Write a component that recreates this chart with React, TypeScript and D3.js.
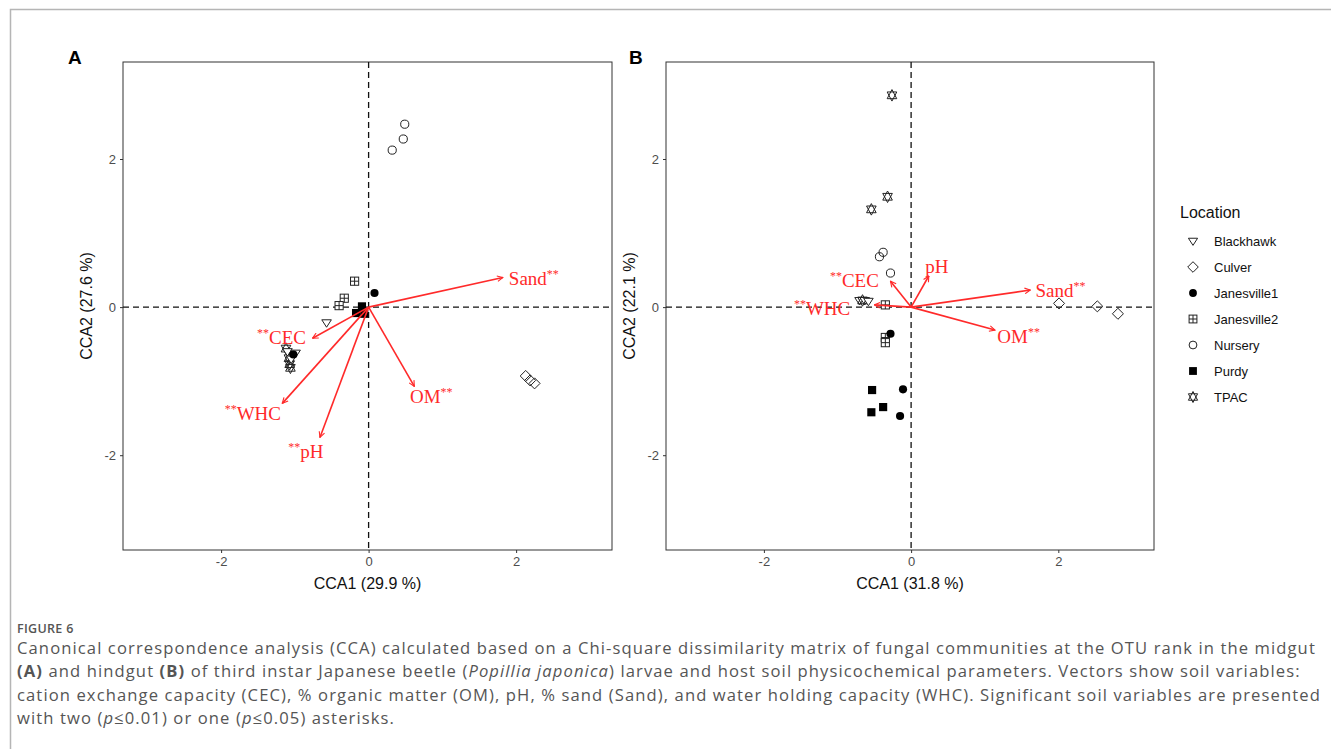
import React, { useEffect, useRef } from 'react';
import * as d3 from 'd3';

// location names and the ggplot shape each one uses
const locations = ['Blackhawk', 'Culver', 'Janesville1', 'Janesville2', 'Nursery', 'Purdy', 'TPAC'];
const shapes = ['triDown', 'diamond', 'dot', 'squarePlus', 'circle', 'square', 'star'];

// sample scores, panel A (midgut): [location, CCA1, CCA2]
const pointsA: [string, number, number][] = [
  ['Nursery', 0.32, 2.12], ['Nursery', 0.47, 2.27], ['Nursery', 0.49, 2.47],
  ['Culver', 2.13, -0.93], ['Culver', 2.19, -0.99], ['Culver', 2.25, -1.03],
  ['Janesville2', -0.19, 0.35], ['Janesville2', -0.33, 0.12], ['Janesville2', -0.4, 0.02],
  ['Janesville1', 0.08, 0.19],
  ['Purdy', -0.09, 0.01], ['Purdy', -0.17, -0.08], ['Purdy', -0.06, -0.09],
  ['Blackhawk', -0.57, -0.21],
  ['TPAC', -1.12, -0.56], ['TPAC', -1.08, -0.69], ['TPAC', -1.07, -0.77], ['TPAC', -1.06, -0.82],
  ['Blackhawk', -1.1, -0.6], ['Blackhawk', -0.99, -0.62], ['Blackhawk', -1.05, -0.7],
  ['Janesville1', -1.02, -0.64],
];

// sample scores, panel B (hindgut)
const pointsB: [string, number, number][] = [
  ['TPAC', -0.26, 2.86], ['TPAC', -0.32, 1.49], ['TPAC', -0.54, 1.32],
  ['Nursery', -0.38, 0.74], ['Nursery', -0.43, 0.68], ['Nursery', -0.28, 0.46],
  ['Blackhawk', -0.7, 0.09], ['Blackhawk', -0.63, 0.09], ['TPAC', -0.66, 0.09], ['Blackhawk', -0.58, 0.08],
  ['Janesville2', -0.35, 0.03], ['Janesville2', -0.35, -0.41], ['Janesville2', -0.35, -0.48],
  ['Janesville1', -0.28, -0.36], ['Janesville1', -0.11, -1.11], ['Janesville1', -0.15, -1.47],
  ['Purdy', -0.53, -1.12], ['Purdy', -0.38, -1.35], ['Purdy', -0.54, -1.42],
  ['Culver', 2.01, 0.05], ['Culver', 2.53, 0.01], ['Culver', 2.81, -0.09],
];

// soil vectors: [name, prefix stars, suffix stars, tipX, tipY, labelX, labelY]
const vectorsA: [string, string, string, number, number, number, number][] = [
  ['Sand', '', '**', 1.82, 0.4, 2.24, 0.38],
  ['OM', '', '**', 0.62, -1.07, 0.85, -1.22],
  ['pH', '**', '', -0.66, -1.76, -0.85, -1.95],
  ['WHC', '**', '', -1.17, -1.3, -1.57, -1.45],
  ['CEC', '**', '', -0.76, -0.42, -1.18, -0.42],
];
const vectorsB: [string, string, string, number, number, number, number][] = [
  ['Sand', '', '**', 1.62, 0.23, 2.03, 0.22],
  ['OM', '', '**', 1.14, -0.31, 1.46, -0.41],
  ['pH', '', '', 0.24, 0.42, 0.35, 0.54],
  ['CEC', '**', '', -0.28, 0.35, -0.77, 0.35],
  ['WHC', '**', '', -0.5, 0.03, -1.21, -0.03],
];

const panels = [
  { letter: 'A', letterX: 68, xLabel: 'CCA1 (29.9 %)', yLabel: 'CCA2 (27.6 %)', points: pointsA, vectors: vectorsA },
  { letter: 'B', letterX: 629, xLabel: 'CCA1 (31.8 %)', yLabel: 'CCA2 (22.1 %)', points: pointsB, vectors: vectorsB },
];

const ticks = [-2, 0, 2];

const captionLines = [
  [{ t: 'Canonical correspondence analysis (CCA) calculated based on a Chi-square dissimilarity matrix of fungal communities at the OTU rank in the midgut' }],
  [{ t: '(A)', b: true }, { t: ' and hindgut ' }, { t: '(B)', b: true }, { t: ' of third instar Japanese beetle (' }, { t: 'Popillia japonica', i: true }, { t: ') larvae and host soil physicochemical parameters. Vectors show soil variables:' }],
  [{ t: 'cation exchange capacity (CEC), % organic matter (OM), pH, % sand (Sand), and water holding capacity (WHC). Significant soil variables are presented' }],
  [{ t: 'with two (' }, { t: 'p', i: true }, { t: '≤0.01) or one (' }, { t: 'p', i: true }, { t: '≤0.05) asterisks.' }],
];

function drawShape(g: any, shape: string, cx: number, cy: number, s: number) {
  const stroke = '#222';
  if (shape === 'triDown') {
    g.append('path').attr('d', `M${cx - s},${cy - s * 0.6}L${cx + s},${cy - s * 0.6}L${cx},${cy + s * 0.95}Z`)
      .attr('fill', 'white').attr('stroke', stroke).attr('stroke-width', 1);
  } else if (shape === 'diamond') {
    g.append('path').attr('d', `M${cx},${cy - s * 1.15}L${cx + s * 1.15},${cy}L${cx},${cy + s * 1.15}L${cx - s * 1.15},${cy}Z`)
      .attr('fill', 'none').attr('stroke', stroke).attr('stroke-width', 1);
  } else if (shape === 'dot') {
    g.append('circle').attr('cx', cx).attr('cy', cy).attr('r', s * 0.85).attr('fill', '#000');
  } else if (shape === 'squarePlus') {
    const h = s * 0.85;
    g.append('rect').attr('x', cx - h).attr('y', cy - h).attr('width', 2 * h).attr('height', 2 * h)
      .attr('fill', 'white').attr('stroke', stroke).attr('stroke-width', 1);
    g.append('path').attr('d', `M${cx - h},${cy}L${cx + h},${cy}M${cx},${cy - h}L${cx},${cy + h}`)
      .attr('stroke', stroke).attr('stroke-width', 1);
  } else if (shape === 'circle') {
    g.append('circle').attr('cx', cx).attr('cy', cy).attr('r', s * 0.85)
      .attr('fill', 'none').attr('stroke', stroke).attr('stroke-width', 1);
  } else if (shape === 'square') {
    const h = s * 0.85;
    g.append('rect').attr('x', cx - h).attr('y', cy - h).attr('width', 2 * h).attr('height', 2 * h).attr('fill', '#000');
  } else if (shape === 'star') {
    g.append('path').attr('d', `M${cx - s},${cy - s * 0.7}L${cx + s},${cy - s * 0.7}L${cx},${cy + s * 1.2}Z`)
      .attr('fill', 'none').attr('stroke', stroke).attr('stroke-width', 1);
    g.append('path').attr('d', `M${cx - s},${cy + s * 0.7}L${cx + s},${cy + s * 0.7}L${cx},${cy - s * 1.2}Z`)
      .attr('fill', 'none').attr('stroke', stroke).attr('stroke-width', 1);
  }
}

function App() {
  const ref = useRef<SVGSVGElement>(null);

  useEffect(() => {
    const svg = d3.select(ref.current);
    svg.selectAll('*').remove();

    // card border
    svg.append('path').attr('d', 'M10.5,749V9.5H1331').attr('fill', 'none').attr('stroke', '#b5b5b5').attr('stroke-width', 1.5);

    const defs = svg.append('defs');
    defs.append('marker').attr('id', 'arrow').attr('viewBox', '0 0 10 10')
      .attr('refX', 9).attr('refY', 5).attr('markerWidth', 7).attr('markerHeight', 7)
      .attr('markerUnits', 'userSpaceOnUse').attr('orient', 'auto')
      .append('path').attr('d', 'M1,1L9,5L1,9').attr('fill', 'none').attr('stroke', '#ff2a2a').attr('stroke-width', 1.6);

    const boxes = [[123, 612], [666, 1154]];
    const top = 62, bottom = 550;
    const sans = 'Liberation Sans, Arial, sans-serif';

    panels.forEach((p, i) => {
      const [left, right] = boxes[i];
      const x = d3.scaleLinear().domain([-3.33, 3.3]).range([left, right]);
      const y = d3.scaleLinear().domain([-3.28, 3.31]).range([bottom, top]);
      const g = svg.append('g');

      g.append('rect').attr('x', left).attr('y', top).attr('width', right - left).attr('height', bottom - top)
        .attr('fill', 'white').attr('stroke', '#333').attr('stroke-width', 1);

      // zero lines
      g.append('line').attr('x1', left).attr('x2', right).attr('y1', y(0)).attr('y2', y(0))
        .attr('stroke', '#111').attr('stroke-width', 1.3).attr('stroke-dasharray', '6,4');
      g.append('line').attr('x1', x(0)).attr('x2', x(0)).attr('y1', top).attr('y2', bottom)
        .attr('stroke', '#111').attr('stroke-width', 1.3).attr('stroke-dasharray', '6,4');

      // axes
      const fmt = (d: any) => String(d);
      const xAxis = g.append('g').attr('transform', `translate(0,${bottom})`)
        .call(d3.axisBottom(x).tickValues(ticks).tickFormat(fmt).tickSize(3).tickSizeOuter(0).tickPadding(4));
      const yAxis = g.append('g').attr('transform', `translate(${left},0)`)
        .call(d3.axisLeft(y).tickValues(ticks).tickFormat(fmt).tickSize(3).tickSizeOuter(0).tickPadding(4));
      [xAxis, yAxis].forEach((a) => {
        a.select('.domain').remove();
        a.selectAll('line').attr('stroke', '#333');
        a.selectAll('text').attr('fill', '#4d4d4d').attr('font-size', 13).attr('font-family', sans);
      });

      g.append('text').attr('x', (left + right) / 2).attr('y', 589).attr('text-anchor', 'middle')
        .attr('font-family', sans).attr('font-size', 16).attr('fill', '#111').text(p.xLabel);
      g.append('text').attr('transform', `translate(${left - 31},${(top + bottom) / 2}) rotate(-90)`).attr('text-anchor', 'middle')
        .attr('font-family', sans).attr('font-size', 16).attr('fill', '#111').text(p.yLabel);

      g.append('text').attr('x', p.letterX).attr('y', 64).attr('font-family', sans)
        .attr('font-weight', 'bold').attr('font-size', 19).attr('fill', '#000').text(p.letter);

      // points
      p.points.forEach(([loc, px, py]) => {
        drawShape(g, shapes[locations.indexOf(loc)], x(px), y(py), 4.8);
      });

      // soil vectors
      p.vectors.forEach(([name, pre, post, tx, ty, lx, ly]) => {
        g.append('line').attr('x1', x(0)).attr('y1', y(0)).attr('x2', x(tx)).attr('y2', y(ty))
          .attr('stroke', '#ff2a2a').attr('stroke-width', 1.6).attr('marker-end', 'url(#arrow)');
        const t = g.append('text').attr('x', x(lx)).attr('y', y(ly) + 6).attr('text-anchor', 'middle')
          .attr('font-family', 'Liberation Serif, Times New Roman, serif').attr('fill', '#ff2a2a');
        if (pre) t.append('tspan').attr('font-size', 12).attr('dy', -7).text(pre);
        t.append('tspan').attr('font-size', 19).attr('dy', pre ? 7 : 0).text(name);
        if (post) t.append('tspan').attr('font-size', 12).attr('dy', -7).text(post);
      });
    });

    // legend
    const lg = svg.append('g');
    lg.append('text').attr('x', 1180).attr('y', 218).attr('font-family', sans)
      .attr('font-size', 16).attr('fill', '#111').text('Location');
    locations.forEach((loc, i) => {
      const cy = 241 + i * 26;
      drawShape(lg, shapes[i], 1193, cy, 4.6);
      lg.append('text').attr('x', 1214).attr('y', cy + 5).attr('font-family', sans)
        .attr('font-size', 13).attr('fill', '#111').text(loc);
    });

    // caption
    svg.append('text').attr('x', 17).attr('y', 633).attr('font-family', 'Open Sans, sans-serif')
      .attr('font-size', 12.5).attr('font-weight', 600).attr('fill', '#555').attr('letter-spacing', 0.3).text('FIGURE 6');
    captionLines.forEach((line, i) => {
      const t = svg.append('text').attr('x', 17).attr('y', 654 + i * 23.4).attr('font-family', 'Open Sans, sans-serif')
        .attr('font-size', 16.6).attr('letter-spacing', 1.1).attr('fill', '#555');
      line.forEach((seg: any) => {
        const s = t.append('tspan').text(seg.t);
        if (seg.b) s.attr('font-weight', 'bold');
        if (seg.i) s.attr('font-style', 'italic');
      });
    });
  }, []);

  return (
    <div>
      <svg ref={ref} width={1331} height={749} style={{ position: 'absolute', left: 0, top: 0 }}></svg>
    </div>
  );
}

export default App;
